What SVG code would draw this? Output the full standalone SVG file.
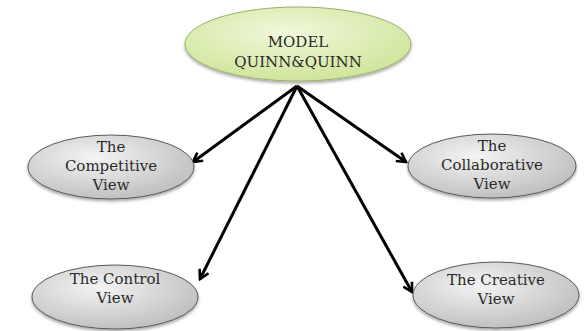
<svg xmlns="http://www.w3.org/2000/svg" width="587" height="331" viewBox="0 0 587 331">
<defs>
<radialGradient id="gGreen" cx="45%" cy="35%" r="65%">
<stop offset="0" stop-color="#f1f8dc"/>
<stop offset="1" stop-color="#cfe59a"/>
</radialGradient>
<radialGradient id="gGray" cx="40%" cy="35%" r="70%">
<stop offset="0" stop-color="#f4f4f4"/>
<stop offset="1" stop-color="#bdbdbd"/>
</radialGradient>
<filter id="sh" x="-20%" y="-20%" width="140%" height="150%">
<feDropShadow dx="0" dy="2" stdDeviation="1.5" flood-color="#000" flood-opacity="0.35"/>
</filter>
<marker id="ah" viewBox="0 0 12 12" refX="10" refY="6" markerWidth="12" markerHeight="12" markerUnits="userSpaceOnUse" orient="auto">
<polyline points="1,1 10,6 1,11" fill="none" stroke="#000" stroke-width="2.6" stroke-linejoin="miter"/>
</marker>
</defs>
<style>
.node{stroke:#5a5a5a;stroke-width:1;filter:url(#sh)}
.gray{fill:url(#gGray)}
.green{fill:url(#gGreen);stroke:#9ab06a}
text{font-family:"DejaVu Serif","Liberation Serif",serif;font-size:15px;fill:#2a2a2a;text-anchor:middle}
.conn line{stroke:#000;stroke-width:3;marker-end:url(#ah)}
</style>
<rect width="587" height="331" fill="#ffffff"/>
<g id="connectors" class="conn">
<line x1="297" y1="86" x2="193" y2="162"/>
<line x1="297" y1="86" x2="406" y2="162"/>
<line x1="297" y1="86" x2="200" y2="279"/>
<line x1="297" y1="86" x2="412" y2="292"/>
</g>
<g id="model">
<ellipse class="node green" cx="298" cy="44" rx="113" ry="37"/>
<text x="298" y="47">MODEL</text>
<text x="298" y="67">QUINN&amp;QUINN</text>
</g>
<g id="competitive">
<ellipse class="node gray" cx="111" cy="167" rx="83" ry="32"/>
<text x="111" y="152">The</text>
<text x="111" y="171">Competitive</text>
<text x="111" y="190">View</text>
</g>
<g id="collaborative">
<ellipse class="node gray" cx="492" cy="166" rx="84" ry="32"/>
<text x="492" y="151">The</text>
<text x="492" y="170">Collaborative</text>
<text x="492" y="189">View</text>
</g>
<g id="control">
<ellipse class="node gray" cx="115" cy="297" rx="83" ry="32"/>
<text x="115" y="284">The Control</text>
<text x="115" y="303">View</text>
</g>
<g id="creative">
<ellipse class="node gray" cx="496" cy="295" rx="83" ry="33"/>
<text x="496" y="285">The Creative</text>
<text x="496" y="304">View</text>
</g>
</svg>
